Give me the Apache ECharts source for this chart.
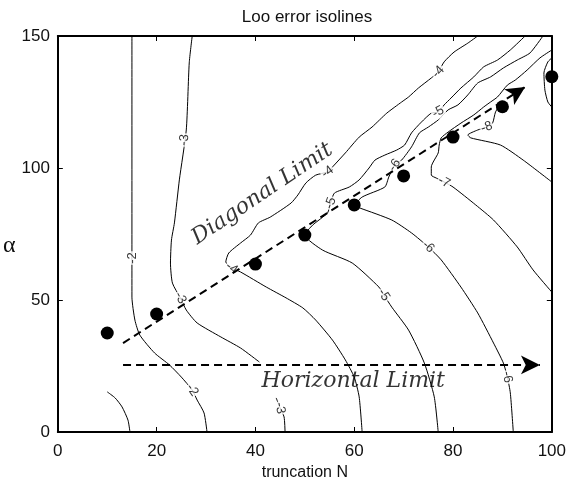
<!DOCTYPE html>
<html>
<head>
<meta charset="utf-8">
<script src="https://cdn.jsdelivr.net/npm/echarts@6/dist/echarts.min.js"></script>
<style>html,body{margin:0;padding:0;background:#fff}#c{width:569px;height:490px}</style>
</head>
<body>
<div id="c"></div>
<script>
// ---- data (x = truncation N, y = alpha) ----
const xTicks = [0, 20, 40, 60, 80, 100];
const yTicks = [0, 50, 100, 150];

const contourM2 = [[15,150],[15,51.1],[15.6,42.4],[16.6,36.7],[19.6,29.9],[22.6,25.4],[25,20.8],[27.2,15.9],[28.2,12.1],[29.6,7.2],[30.2,0]];
const contourM2b = [[10,15.2],[11.6,12.9],[13,9.5],[14.2,4.5],[14.6,0]];
const contourM3a = [[27.2,150],[26.6,139.8],[26,114.4],[24.6,95.5],[23.6,79.2],[23,72.7],[22.8,64],[23.2,56.4],[24.8,50.8],[26,46.2],[28.2,41.3],[33,36],[37,31.8],[40.8,26.5]];
const contourM3b = [[44.2,12.9],[45,9.1],[45.8,5.7],[46,0]];
const contourM4 = [[85,150],[83,147.3],[80.2,143.9],[78.2,140.2],[77,136.4],[75.6,134.1],[73,130.3],[71,126.9],[69.6,125],[66.6,120.8],[63.6,115.5],[61,111.7],[58.2,105.7],[55.6,100.4],[54.6,98.5],[52.2,97.3],[50.2,94.3],[48.6,89.8],[47.2,86.7],[43,81.4],[40.6,79.2],[39,74.6],[37,71.6],[34.6,67.8],[34,64.4],[35.2,62.1],[37,60.6],[42.2,54.9],[46.2,50.8],[49.6,47],[52.2,42.4],[55.6,34.8],[58.2,27.3],[60,20.8],[61,13.3],[61.6,0]];
const contourM5 = [[94.6,150],[91.6,144.7],[89,140.9],[86.2,138.3],[84.2,134.5],[81.6,130.3],[79.6,126.5],[78.2,123.9],[77,121.2],[75.6,120.8],[73.6,117.4],[71.6,113.3],[70.2,108.7],[68.6,106.8],[66.2,104.9],[64.2,103],[63,100],[61,95.5],[59,92.8],[56,90.5],[55.2,86.7],[54.6,83],[51.6,78.4],[50,74.6],[53.6,68.9],[59.6,64],[65,54.9],[66,51.9],[67.6,47.3],[71,38.6],[74.2,26.1],[76.2,13.3],[77,0]];
const contourM6 = [[98.2,150],[95.6,143.6],[93,140.9],[90.2,137.9],[87.6,134.5],[85,132.2],[83,127.7],[81,123.9],[79,122],[77,118.2],[75,115.5],[73.2,113.3],[71.6,108],[69.6,103],[68.2,101.1],[67,96.6],[66.2,92.8],[61.6,89],[60,85.6],[61.2,84.8],[67.6,80.3],[71.6,75.4],[75,70.1],[77.6,65.2],[81.6,54.9],[85,45.1],[88.2,33.7],[90.2,26.1],[91,20.8],[91.6,14.8],[92.2,0]];
const contourM7 = [[100,144.7],[97.6,141.7],[95,137.1],[92.6,133.3],[91,131.4],[89,126.9],[87.6,125],[86.2,123.1],[84.2,120.1],[81.6,117],[79,113.6],[77.6,111.4],[77.2,108.7],[77,105.7],[75.6,100.4],[75.6,97.3],[76.6,96.2],[78.2,94.7],[80,92.8],[84.6,86],[88.2,80.3],[93,70.1],[96.2,61.4],[100,53]];
const contourM8 = [[89.6,124.2],[88.6,121.2],[88,117],[86.8,115.5],[85,114.4],[83,112.5],[83.6,111.4],[89.6,108.7],[94.2,103],[100,94.7]];
const contourM9 = [[100,141.7],[99.2,140.2],[98.4,136],[98.6,129.5],[99.2,125],[100,123.1]];

const labelPos = [[15,65.9],[27.2,15.9],[25.6,110.6],[24.8,50.8],[45,9.1],[77,136.4],[54.6,98.5],[35.2,62.1],[77,121.2],[55.2,86.7],[66,51.9],[68.2,101.1],[75,70.1],[91,20.8],[78.2,94.7],[86.8,115.5]];
const labelText = ['-2','-2','-3','-3','-3','-4','-4','-4','-5','-5','-5','-6','-6','-6','-7','-8'];
const labelAngle = [90,-55,85,-62,-80,48,36,-35,28,70,-57,55,-42,-80,-28,20];

const optimumN = [10,20,40,50,60,70,80,90,100];
const optimumAlpha = [37.5,44.7,63.6,74.6,86,97,111.7,123.2,134.6];

const diagonalArrow = [[13.2,33.7],[94.6,130.7]];
const horizontalArrow = [[13.2,25.4],[97.6,25.4]];
const annotText = ['Diagonal Limit','Horizontal Limit'];
const annotPos = [[41.4,90.2],[59.8,19.3]];

// ---- chart ----
const chart = echarts.init(document.getElementById('c'), null, {renderer:'canvas'});
const contours = [contourM2,contourM2b,contourM3a,contourM3b,contourM4,contourM5,contourM6,contourM7,contourM8,contourM9];
const sans = 'Liberation Sans, Arial, Helvetica, sans-serif';
const series = contours.map(d => ({
  type:'line', data:d, showSymbol:false, symbol:'none', smooth:0.2, silent:true, z:2,
  lineStyle:{color:'#000', width:1}
}));
series.push({
  type:'scatter', symbolSize:0, silent:true, z:3,
  data: labelPos.map((p,i) => ({value:p, name:labelText[i], label:{rotate:labelAngle[i]}})),
  label:{show:true, position:'inside', formatter:p=>p.name, fontSize:13, fontFamily:sans, color:'#000', backgroundColor:'#fff', padding:[0,1]}
});
series.push({
  type:'line', data:[], silent:true, z:4,
  markLine:{
    silent:true, symbol:['none','arrow'], symbolSize:[14,19], animation:false,
    label:{show:false},
    lineStyle:{color:'#000', width:2, type:[8,5], opacity:1},
    data:[
      [{coord:diagonalArrow[0]},{coord:diagonalArrow[1]}],
      [{coord:horizontalArrow[0]},{coord:horizontalArrow[1]}]
    ]
  }
});
series.push({
  type:'scatter', symbolSize:13, silent:true, z:5, itemStyle:{color:'#000', opacity:1},
  data: optimumN.map((n,i)=>[n, optimumAlpha[i]])
});
series.push({
  type:'scatter', symbolSize:0, silent:true, z:6,
  data: annotPos.map((p,i)=>({value:p, name:annotText[i], label:{rotate: i===0 ? 34 : 0}})),
  label:{show:true, position:'inside', formatter:p=>p.name, fontSize:22, fontStyle:'italic', fontFamily:'DejaVu Serif, serif', color:'#000'}
});

const axisCommon = {
  axisLine:{show:true, onZero:false, lineStyle:{color:'#000', width:2}},
  axisTick:{show:true, inside:true, length:5, lineStyle:{color:'#000', width:1}},
  splitLine:{show:false}
};
chart.setOption({
  animation:false,
  backgroundColor:'#fff',
  title:{text:'Loo error isolines', left:302, textAlign:'center', top:4, textStyle:{fontFamily:sans, fontSize:17, fontWeight:'normal', color:'#111'}},
  grid:{left:52, right:17, top:36, bottom:58},
  xAxis:[
    Object.assign({type:'value', min:xTicks[0], max:xTicks[xTicks.length-1], interval:20, position:'bottom',
      name:'truncation N', nameLocation:'middle', nameGap:32, nameTextStyle:{fontFamily:sans, fontSize:16, color:'#111'},
      axisLabel:{fontFamily:sans, fontSize:17, color:'#111', margin:11}}, axisCommon),
    Object.assign({type:'value', min:xTicks[0], max:xTicks[xTicks.length-1], interval:20, position:'top', axisLabel:{show:false}}, axisCommon)
  ],
  yAxis:[
    Object.assign({type:'value', min:yTicks[0], max:yTicks[yTicks.length-1], interval:50, position:'left',
      name:'α', nameLocation:'middle', nameRotate:0, nameGap:24, nameTextStyle:{fontFamily:'Liberation Serif, serif', fontSize:24, color:'#111', verticalAlign:'top'},
      axisLabel:{fontFamily:sans, fontSize:17, color:'#111', margin:8}}, axisCommon),
    Object.assign({type:'value', min:yTicks[0], max:yTicks[yTicks.length-1], interval:50, position:'right', axisLabel:{show:false}}, axisCommon)
  ],
  series: series
});
</script>
</body>
</html>
